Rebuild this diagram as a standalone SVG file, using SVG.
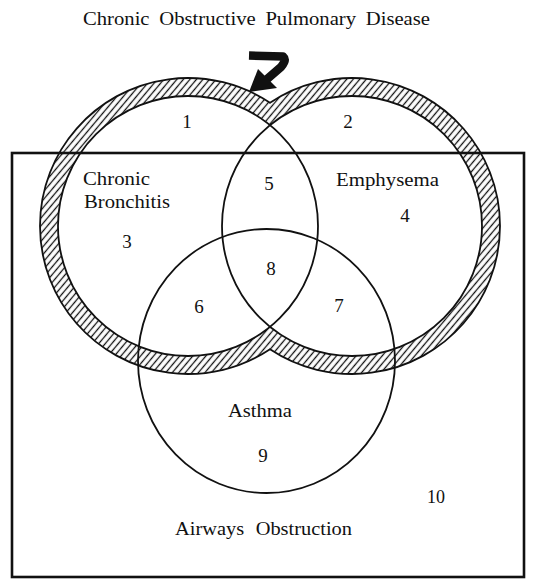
<svg xmlns="http://www.w3.org/2000/svg" width="533" height="585" viewBox="0 0 533 585">
<style>
text{font-family:"Liberation Serif","Times New Roman",serif;fill:#111;}
.lbl{font-size:19px;}
.num{font-size:19px;text-anchor:middle;}
.ttl{font-size:18px;word-spacing:4px;}
.line{fill:none;stroke:#111;stroke-width:1.8;}
</style>
<defs>
<pattern id="hatch" patternUnits="userSpaceOnUse" width="5" height="5" patternTransform="rotate(40)">
<rect width="5" height="5" fill="#fff"/>
<line x1="1.5" y1="0" x2="1.5" y2="5" stroke="#111" stroke-width="1.3"/>
</pattern>
</defs>
<rect width="533" height="585" fill="#fff"/>
<text class="ttl" x="83" y="25" textLength="347" lengthAdjust="spacingAndGlyphs">Chronic Obstructive Pulmonary Disease</text>

<g id="copd-band">
<path d="M270 102.8 A148 148 0 1 0 270 349.2 A148 148 0 1 0 270 102.8 Z M270 125.1 A130 130 0 1 0 270 326.9 A130 130 0 1 0 270 125.1 Z" fill="url(#hatch)" fill-rule="evenodd"/>
<path d="M270 102.8 A148 148 0 1 0 270 349.2 A148 148 0 1 0 270 102.8 Z" class="line" stroke-width="2.4"/>
</g>
<g id="chronic-bronchitis">
<circle cx="188" cy="226" r="130" class="line"/>
</g>
<g id="emphysema">
<circle cx="352" cy="226" r="130" class="line"/>
</g>
<g id="asthma">
<ellipse cx="266.5" cy="361" rx="128.5" ry="132" class="line"/>
</g>
<g id="airways-obstruction">
<rect x="12" y="153" width="512" height="424" fill="none" stroke="#111" stroke-width="2.6"/>
</g>
<g id="connectors">
<path d="M249 55.5 L283 56.5 Q287 60 281 67 L266 80" fill="none" stroke="#111" stroke-width="8.5" stroke-linejoin="round"/>
<polygon points="258,69 277,88 249,92" fill="#111"/>
</g>

<g id="labels">
<text class="num" x="187" y="128">1</text>
<text class="num" x="348" y="128">2</text>
<text class="lbl" x="83" y="185" textLength="67" lengthAdjust="spacingAndGlyphs">Chronic</text>
<text class="lbl" x="84" y="208" textLength="86" lengthAdjust="spacingAndGlyphs">Bronchitis</text>
<text class="num" x="127" y="248">3</text>
<text class="num" x="269" y="190">5</text>
<text class="lbl" x="336" y="186" textLength="103" lengthAdjust="spacingAndGlyphs">Emphysema</text>
<text class="num" x="405" y="222">4</text>
<text class="num" x="199" y="313">6</text>
<text class="num" x="271" y="275">8</text>
<text class="num" x="339" y="312">7</text>
<text class="lbl" x="228" y="417" textLength="64" lengthAdjust="spacingAndGlyphs">Asthma</text>
<text class="num" x="263" y="462">9</text>
<text class="lbl" x="427" y="503" textLength="18" lengthAdjust="spacingAndGlyphs">10</text>
<text class="lbl" x="175" y="535" textLength="177" lengthAdjust="spacingAndGlyphs" style="word-spacing:6px">Airways Obstruction</text>
</g>
</svg>
